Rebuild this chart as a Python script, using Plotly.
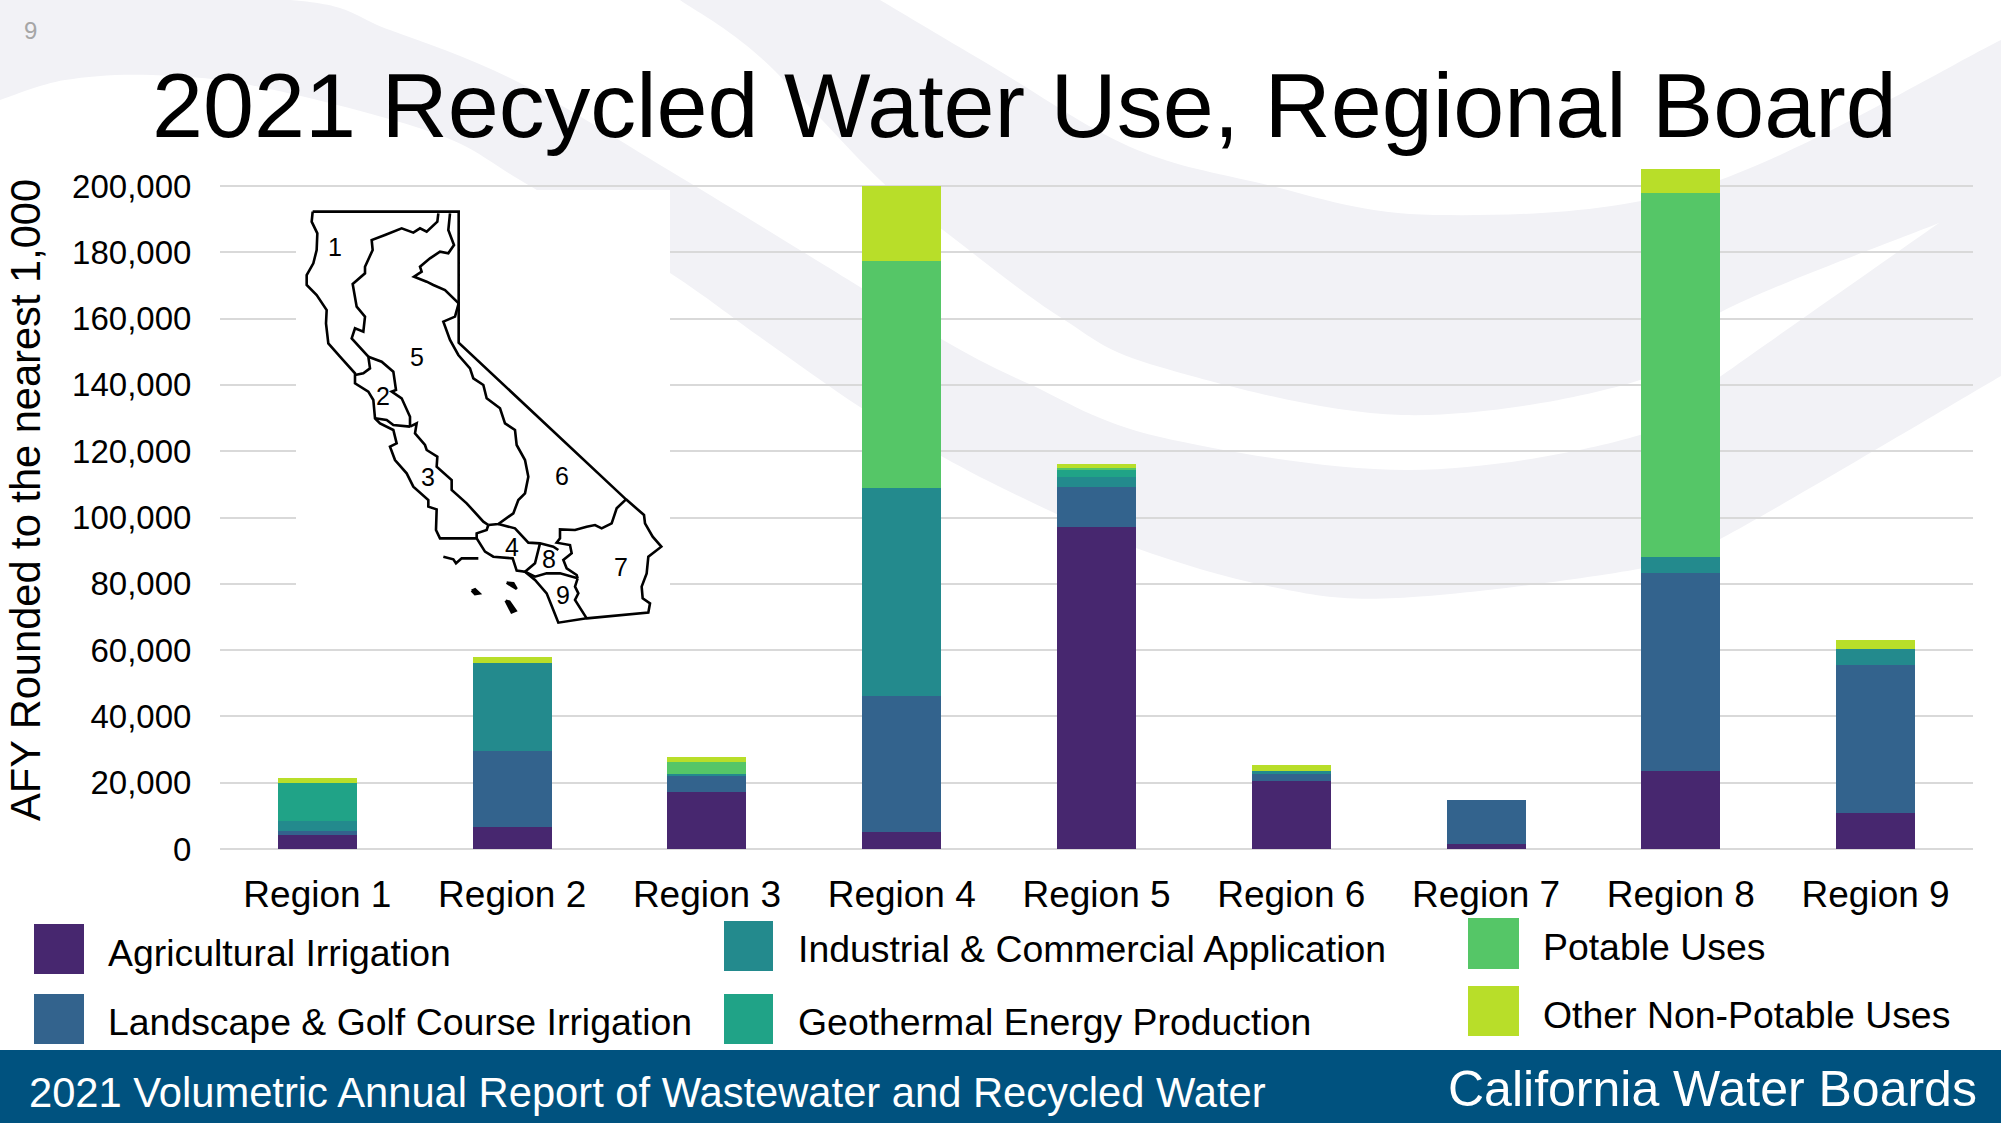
import plotly.graph_objects as go

W, H = 2001, 1123

# dados
regioes = ["Region 1", "Region 2", "Region 3", "Region 4", "Region 5", "Region 6", "Region 7", "Region 8", "Region 9"]
agricultural = [4300, 6600, 17300, 5200, 97200, 20400, 1600, 23400, 10800]
landscape = [1000, 22900, 4600, 41100, 12100, 2300, 13300, 60000, 44800]
industrial = [3200, 26600, 700, 62700, 2900, 800, 0, 4800, 4800]
geothermal = [11400, 0, 0, 0, 2000, 0, 0, 0, 0]
potable = [0, 0, 3600, 68400, 800, 0, 0, 109800, 0]
other = [1500, 1800, 1500, 22600, 1000, 1800, 0, 7100, 2700]

nomes = ["Agricultural Irrigation", "Landscape & Golf Course Irrigation", "Industrial & Commercial Application",
         "Geothermal Energy Production", "Potable Uses", "Other Non-Potable Uses"]
series = [agricultural, landscape, industrial, geothermal, potable, other]
cores = ["#47276F", "#33638D", "#238A8D", "#20A387", "#55C667", "#B8DE29"]
y_ticks = [0, 20000, 40000, 60000, 80000, 100000, 120000, 140000, 160000, 180000, 200000]

# legenda montada a mao: x0, y0, x1, y1 do quadrado e x, y do texto
legenda = [
    (34, 924, 84, 974, 106, 953),
    (34, 994, 84, 1044, 106, 1022),
    (724, 921, 773, 971, 796, 949),
    (724, 994, 773, 1044, 796, 1022),
    (1468, 918, 1519, 969, 1541, 947),
    (1468, 986, 1519, 1036, 1541, 1015),
]

# contorno do fundo (pixels da pagina)
fundo_trechos = [
    [(0, 0), (290, 0), (390, 30), (520, 83), (680, 177), (860, 287), (943, 340), (1027, 383), (1160, 437),
     (1409, 470), (1640, 435), (1721, 376), (1939, 223)],
    [(1939, 223), (1721, 312), (1640, 380), (1402, 415), (1160, 367), (1060, 317), (943, 230), (880, 180), (760, 57), (680, 0)],
    [(880, 0), (993, 67), (1128, 146), (1255, 182), (1434, 215), (1702, 186), (2001, 40)],
    [(2001, 376), (1722, 538), (1638, 569), (1397, 598), (1268, 586), (1136, 548), (1027, 500), (943, 457), (860, 407),
     (760, 337), (670, 273), (520, 180), (434, 133), (260, 87), (152, 75), (65, 80), (0, 100)],
]

# mapa da California, tracado sobre o recorte com zoom 3x a partir de (200, 160)
mapa_linhas = [
    [(338, 155), (776, 155), (776, 548), (1278, 1018), (1332, 1065), (1335, 1090), (1358, 1130), (1384, 1160), (1345, 1190),
     (1340, 1240), (1325, 1280), (1328, 1315), (1350, 1330), (1345, 1358), (1160, 1375), (1075, 1388), (1060, 1350),
     (1040, 1300), (1005, 1260), (975, 1235), (950, 1232), (938, 1195), (880, 1190), (855, 1175), (830, 1135), (770, 1135), (720, 1135),
     (708, 1110), (710, 1048), (685, 1040), (685, 1020), (640, 980), (620, 940), (585, 900), (570, 860), (590, 850), (580, 810),
     (540, 790), (525, 775), (520, 720), (505, 695), (465, 670), (465, 640), (420, 590), (385, 550), (378, 490), (380, 450),
     (350, 405), (320, 375), (320, 345), (340, 310), (350, 270), (352, 220), (335, 185), (338, 155)],
    [(715, 160), (712, 185), (680, 215), (660, 205), (640, 218), (605, 205), (555, 225), (515, 240), (518, 270), (495, 320), (495, 340),
     (458, 372), (470, 440), (495, 470), (490, 515), (465, 505), (455, 535), (505, 590), (510, 625), (490, 640), (465, 645)],
    [(505, 590), (545, 605), (580, 635), (588, 690), (575, 695), (605, 715), (630, 770), (630, 800)],
    [(525, 775), (560, 780), (580, 795), (630, 800)],
    [(630, 800), (650, 790), (645, 820), (675, 855), (680, 870), (712, 890), (710, 920), (755, 960), (755, 990), (800, 1030),
     (850, 1085), (865, 1095)],
    [(865, 1095), (860, 1110), (830, 1120), (830, 1135)],
    [(750, 160), (745, 210), (762, 255), (745, 280), (720, 275), (690, 295), (660, 320), (665, 335), (642, 350), (680, 365),
     (700, 375), (735, 390), (776, 430), (765, 470), (730, 485), (750, 540), (775, 585), (810, 625), (820, 655), (850, 675),
     (860, 715), (900, 745), (915, 790), (945, 810), (950, 855), (975, 900), (985, 950), (975, 1000), (955, 1020), (940, 1060),
     (895, 1092), (865, 1095)],
    [(895, 1092), (945, 1105), (985, 1148), (1020, 1150), (1060, 1160), (1075, 1170)],
    [(1278, 1018), (1250, 1045), (1235, 1090), (1205, 1105), (1185, 1095), (1160, 1100), (1125, 1110), (1080, 1108), (1080, 1135),
     (1070, 1148), (1110, 1155), (1115, 1180), (1090, 1200), (1100, 1225), (1130, 1245), (1133, 1255)],
    [(1020, 1150), (1005, 1210), (975, 1235), (1005, 1250), (1040, 1240), (1080, 1240), (1133, 1255)],
    [(1133, 1255), (1125, 1280), (1135, 1300), (1125, 1320), (1160, 1375)],
    [(730, 1190), (760, 1198), (768, 1210), (785, 1195), (835, 1195)],
    [(815, 1292), (825, 1288), (838, 1300), (825, 1302), (815, 1292)],
    [(920, 1268), (940, 1270), (950, 1287), (935, 1278), (920, 1268)],
    [(917, 1322), (928, 1325), (947, 1352), (935, 1357), (917, 1322)],
]
mapa_numeros = [("1", 405, 262), ("5", 652, 590), ("2", 548, 708), ("3", 683, 952), ("6", 1085, 947),
                ("4", 935, 1160), ("8", 1048, 1198), ("7", 1262, 1222), ("9", 1088, 1305)]


def px(x, y):
    return x / W, 1 - y / H


def ponto(x, y):
    a, b = px(x, y)
    return f"{a:.5f},{b:.5f}"


def curva(pts):
    # catmull-rom para bezier, para o fundo ficar liso
    s = ""
    for i in range(len(pts) - 1):
        p0 = pts[max(i - 1, 0)]
        p1 = pts[i]
        p2 = pts[i + 1]
        p3 = pts[min(i + 2, len(pts) - 1)]
        c1 = (p1[0] + (p2[0] - p0[0]) / 6, p1[1] + (p2[1] - p0[1]) / 6)
        c2 = (p2[0] - (p3[0] - p1[0]) / 6, p2[1] - (p3[1] - p1[1]) / 6)
        s += f" C {ponto(*c1)} {ponto(*c2)} {ponto(*p2)}"
    return s


def texto(x, y, s, size, cor="black", anchor="left", angulo=0):
    a, b = px(x, y)
    return dict(x=a, y=b, xref="paper", yref="paper", text=s, showarrow=False, xanchor=anchor, yanchor="middle",
                textangle=angulo, font=dict(family="Liberation Sans", size=size, color=cor))


def ret(x0, y0, x1, y1, cor, layer="above"):
    a0, b0 = px(x0, y0)
    a1, b1 = px(x1, y1)
    return dict(type="rect", xref="paper", yref="paper", x0=a0, y0=b0, x1=a1, y1=b1,
                fillcolor=cor, line=dict(width=0), layer=layer)


fig = go.Figure()
for nome, valores, cor in zip(nomes, series, cores):
    fig.add_trace(go.Bar(x=regioes, y=valores, name=nome, marker=dict(color=cor, line=dict(width=0))))

shapes = []

# fundo
caminho = f"M {ponto(*fundo_trechos[0][0])}"
for t in fundo_trechos:
    caminho += f" L {ponto(*t[0])}" + curva(t)
caminho += " Z"
shapes.append(dict(type="path", xref="paper", yref="paper", path=caminho, fillcolor="#F2F2F6",
                   line=dict(width=0), layer="below"))

# rodape e caixa branca do mapa
shapes.append(ret(0, 1050, W, H, "#00527F"))
shapes.append(ret(296, 190, 670, 645, "white"))

for linha in mapa_linhas:
    reais = [(200 + a / 3, 160 + b / 3) for a, b in linha]
    d = "M " + " L ".join(ponto(*p) for p in reais)
    fechado = linha[0] == linha[-1] and len(linha) < 10
    shapes.append(dict(type="path", xref="paper", yref="paper", path=d, layer="above",
                       fillcolor="black" if fechado else "rgba(0,0,0,0)",
                       line=dict(color="black", width=2.6)))

anotacoes = [
    texto(22, 30, "9", 24, "#A6A6A6"),
    texto(150, 105, "2021 Recycled Water Use, Regional Board", 91.7),
    texto(26, 500, "AFY Rounded to the nearest 1,000", 41.6, anchor="center", angulo=-90),
    texto(27, 1092, "2021 Volumetric Annual Report of Wastewater and Recycled Water", 41.7, "white"),
    texto(1979, 1089, "California Water Boards", 50, "white", anchor="right"),
]
for n, a, b in mapa_numeros:
    anotacoes.append(texto(200 + a / 3, 160 + b / 3, n, 25, anchor="center"))
for nome, cor, (x0, y0, x1, y1, tx, ty) in zip(nomes, cores, legenda):
    shapes.append(ret(x0, y0, x1, y1, cor))
    anotacoes.append(texto(tx, ty, nome, 37.4))

y_topo = sum(s[7] for s in series)
fig.update_layout(
    width=W, height=H, margin=dict(l=0, r=0, t=0, b=0), autosize=False,
    paper_bgcolor="white", plot_bgcolor="rgba(0,0,0,0)",
    barmode="stack", bargap=0.594, showlegend=False,
    font=dict(family="Liberation Sans", color="black"),
    shapes=shapes, annotations=anotacoes,
    xaxis=dict(domain=[220 / W, 1973 / W], automargin=False, showgrid=False, zeroline=False, showline=False,
               ticks="outside", ticklen=13, tickcolor="rgba(0,0,0,0)", tickfont=dict(size=37)),
    yaxis=dict(domain=[1 - 849 / H, 1 - 169.1 / H], automargin=False, range=[0, y_topo], tickvals=y_ticks, tickformat=",d",
               showgrid=True, gridcolor="#D9D9D9", gridwidth=2, zeroline=True, zerolinecolor="#D9D9D9", zerolinewidth=2,
               showline=False, ticks="outside", ticklen=21, tickcolor="rgba(0,0,0,0)", tickfont=dict(size=33)),
)

fig.write_html("out.html", config=dict(displayModeBar=False), post_script="document.body.style.margin='0';")
